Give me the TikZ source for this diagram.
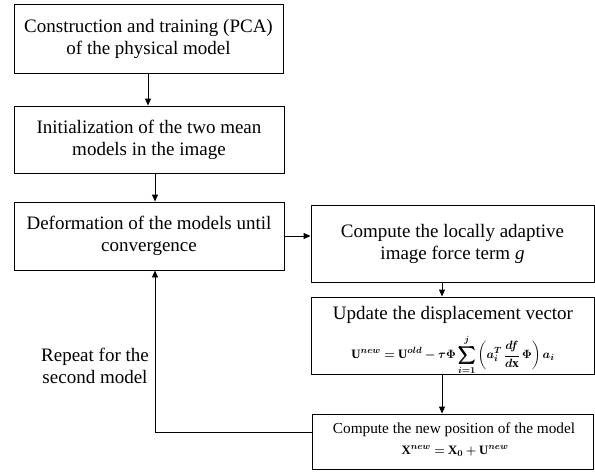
\documentclass[tikz,border=0pt]{standalone}
\usepackage{amsmath,bm}
\usepackage{fontspec}
\setmainfont{Liberation Serif}
\usetikzlibrary{arrows.meta}
\tikzset{
  stepbox/.style={draw, line width=0.9pt, align=center, inner sep=0pt, font=\fontsize{19}{22}\selectfont},
  flow/.style={line width=0.9pt, -{Triangle[length=7pt,width=6pt]}},
  eq/.style={inner sep=0pt, font=\fontsize{12.8}{15}\selectfont}
}
\begin{document}
\begin{tikzpicture}[x=1pt,y=-1pt]
\useasboundingbox (0,0) rectangle (595,472);
\node[stepbox, minimum width=269pt, minimum height=69pt] (b1) at (148.5,38.5)
  {Construction and training (PCA)\\of the physical model};
\node[stepbox, minimum width=270pt, minimum height=67pt] (b2) at (149,139.5)
  {Initialization of the two mean\\models in the image};
\node[stepbox, minimum width=270pt, minimum height=68pt] (b3) at (149,236)
  {Deformation of the models until\\convergence};
\node[stepbox, minimum width=283pt, minimum height=77pt] (b4) at (452.5,243.5)
  {Compute the locally adaptive\\image force term \textit{g}};
\node[stepbox, minimum width=283pt, minimum height=77pt] (b5) at (452.5,335.5)
  {};
\node[inner sep=0pt, font=\fontsize{19}{22}\selectfont] (t5) at (453,315) {Update the displacement vector};
\node[eq] (f5) at (453,355)
  {$\displaystyle\boldsymbol{\mathrm{U}^{new} = \mathrm{U}^{old} - \tau\Phi\sum_{i=1}^{j}\left( a_i^{T}\,\frac{df}{d\mathrm{x}}\,\Phi\right) a_i}$};
\node[stepbox, minimum width=281pt, minimum height=55pt] (b6) at (452.5,441.5) {};
\node[inner sep=0pt, font=\fontsize{15.3}{17}\selectfont] (t6) at (454,430) {Compute the new position of the model};
\node[eq] (f6) at (455,451) {$\boldsymbol{\mathrm{X}^{new} = \mathrm{X}_0 + \mathrm{U}^{new}}$};
\node[align=center, font=\fontsize{19}{22}\selectfont] (rep) at (95,366)
  {Repeat for the\\second model};
\coordinate (turn) at (155,432);
\draw[flow] (b1.south -| 148,0) -- (b2.north -| 148,0);
\draw[flow] (b2.south -| 155,0) -- (b3.north -| 155,0);
\draw[flow] (b3.east) -- (b4.west |- b3.east);
\draw[flow] (b4.south -| 442,0) -- (b5.north -| 442,0);
\draw[flow] (b5.south -| 442,0) -- (b6.north -| 442,0);
\draw[flow] (b6.west |- turn) -- (turn) -- (b3.south -| turn);
\end{tikzpicture}
\end{document}
